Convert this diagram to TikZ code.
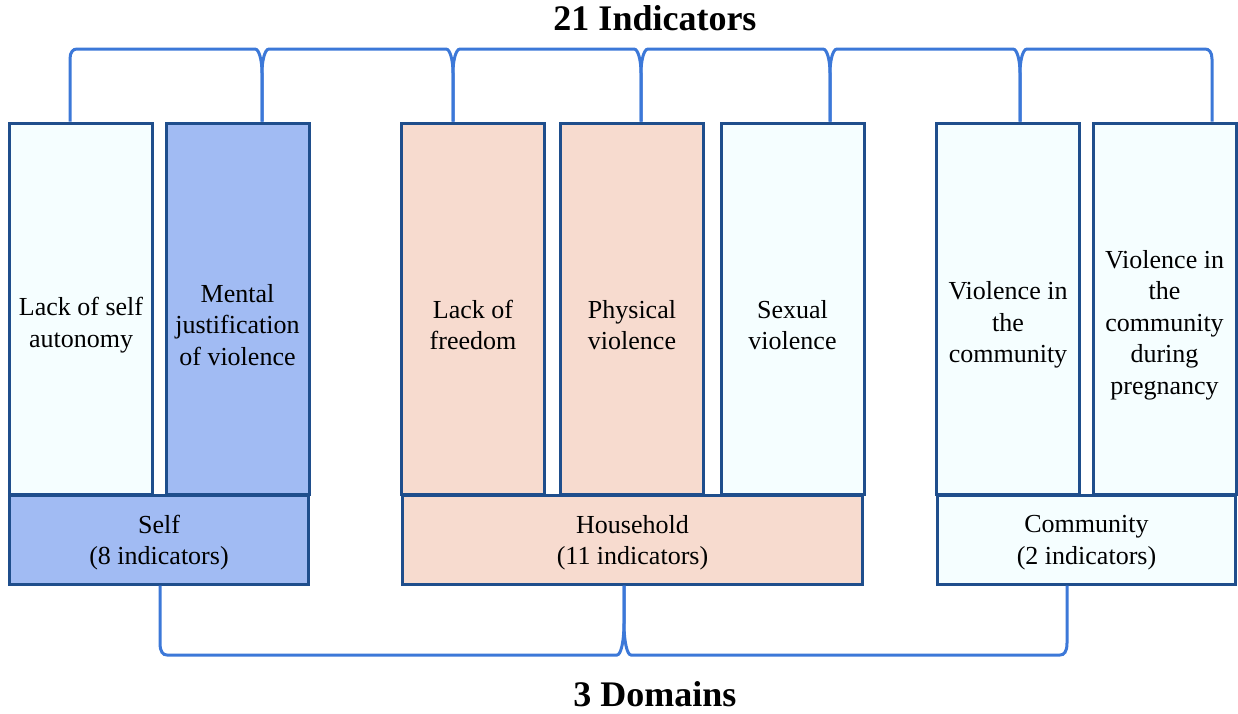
\documentclass[tikz,border=0pt]{standalone}
\usepackage{fontspec}
\setmainfont{Liberation Serif}
\usetikzlibrary{calc}
\definecolor{palecyan}{RGB}{245,254,255}
\definecolor{selfblue}{RGB}{161,187,243}
\definecolor{peach}{RGB}{247,219,207}
\definecolor{edgeblue}{RGB}{31,78,140}
\definecolor{braceblue}{RGB}{60,120,216}
\begin{document}
\begin{tikzpicture}[x=0.5pt,y=-0.5pt,
    indbox/.style={draw=edgeblue,line width=1.5pt,minimum width=71.5pt,minimum height=185.5pt,inner sep=0pt},
    dombox/.style={draw=edgeblue,line width=1.5pt,minimum height=44.5pt,inner sep=0pt},
    boxtext/.style={align=center,inner sep=0pt,font=\fontsize{13}{15.75}\selectfont},
    brace/.style={draw=braceblue,line width=1.5pt},
    heading/.style={inner sep=0pt,font=\fontsize{18}{22}\selectfont\bfseries}]
    \useasboundingbox (0,0) rectangle (1238,713);
    \node[heading] (ttl) at (655,18) {21 Indicators};
    \node[heading] (btl) at (655,694) {3 Domains};
    \node[indbox,fill=palecyan] (ind1) at (81,308.5) {};
    \node[indbox,fill=selfblue] (ind2) at (237.5,308.5) {};
    \node[indbox,fill=peach] (ind3) at (473,308.5) {};
    \node[indbox,fill=peach] (ind4) at (632,308.5) {};
    \node[indbox,fill=palecyan] (ind5) at (792.5,308.5) {};
    \node[indbox,fill=palecyan] (ind6) at (1008,308.5) {};
    \node[indbox,fill=palecyan] (ind7) at (1164.5,308.5) {};
    \node[boxtext] (txt1) at ([yshift=-8.25pt]ind1.center) {Lack of self\\autonomy};
    \node[boxtext] (txt2) at ([yshift=-8.25pt]ind2.center) {Mental\\justification\\of violence};
    \node[boxtext] (txt3) at ([yshift=-8.25pt]ind3.center) {Lack of\\freedom};
    \node[boxtext] (txt4) at ([yshift=-8.25pt]ind4.center) {Physical\\violence};
    \node[boxtext] (txt5) at ([yshift=-8.25pt]ind5.center) {Sexual\\violence};
    \node[boxtext] (txt6) at ([yshift=-8.25pt]ind6.center) {Violence in\\the\\community};
    \node[boxtext] (txt7) at ([yshift=-8.25pt]ind7.center) {Violence in\\the\\community\\during\\pregnancy};
    \node[dombox,fill=selfblue,minimum width=149.5pt] (self) at (159,539.5) {};
    \node[dombox,fill=peach,minimum width=230pt] (house) at (632.5,539.5) {};
    \node[dombox,fill=palecyan,minimum width=149pt] (comm) at (1086.5,539.5) {};
    \node[boxtext] (dtxt1) at ([yshift=-1.5pt]self.center) {Self\\(8 indicators)};
    \node[boxtext] (dtxt2) at ([yshift=-1.5pt]house.center) {Household\\(11 indicators)};
    \node[boxtext] (dtxt3) at ([yshift=-1.5pt]comm.center) {Community\\(2 indicators)};
    \coordinate (u1) at (70,49);
    \coordinate (u2) at (262,49);
    \coordinate (u3) at (453,49);
    \coordinate (u4) at (641,49);
    \coordinate (u5) at (830,49);
    \coordinate (u6) at (1020,49);
    \coordinate (u7) at (1212,49);
    \coordinate (l1) at (160,655);
    \coordinate (l2) at (624,655);
    \coordinate (l3) at (1067,655);
    \foreach \a/\b/\p/\q/\ra/\rb/\ka/\kb in {u1/u2/ind1/ind2/10/24/3/11,u2/u3/ind2/ind3/24/24/11/11,u3/u4/ind3/ind4/24/24/11/11,
            u4/u5/ind4/ind5/24/24/11/11,u5/u6/ind5/ind6/24/24/11/11,u6/u7/ind6/ind7/24/10/11/3}
        \draw[brace] (\p.north -| \a) -- ($(\a)+(0,\ra)$) .. controls ($(\a)+(0,\ka)$) and ($(\a)+(3,0)$) .. ($(\a)+(7,0)$)
            -- ($(\b)+(-7,0)$) .. controls ($(\b)+(-3,0)$) and ($(\b)+(0,\kb)$) .. ($(\b)+(0,\rb)$) -- (\q.north -| \b);
    \foreach \a/\b/\p/\q/\ra/\rb/\ka/\kb in {l1/l2/self/house/12/32/3/14,l2/l3/house/comm/32/12/14/3}
        \draw[brace] (\p.south -| \a) -- ($(\a)+(0,-\ra)$) .. controls ($(\a)+(0,-\ka)$) and ($(\a)+(3,0)$) .. ($(\a)+(7,0)$)
            -- ($(\b)+(-7,0)$) .. controls ($(\b)+(-3,0)$) and ($(\b)+(0,-\kb)$) .. ($(\b)+(0,-\rb)$) -- (\q.south -| \b);
\end{tikzpicture}
\end{document}
